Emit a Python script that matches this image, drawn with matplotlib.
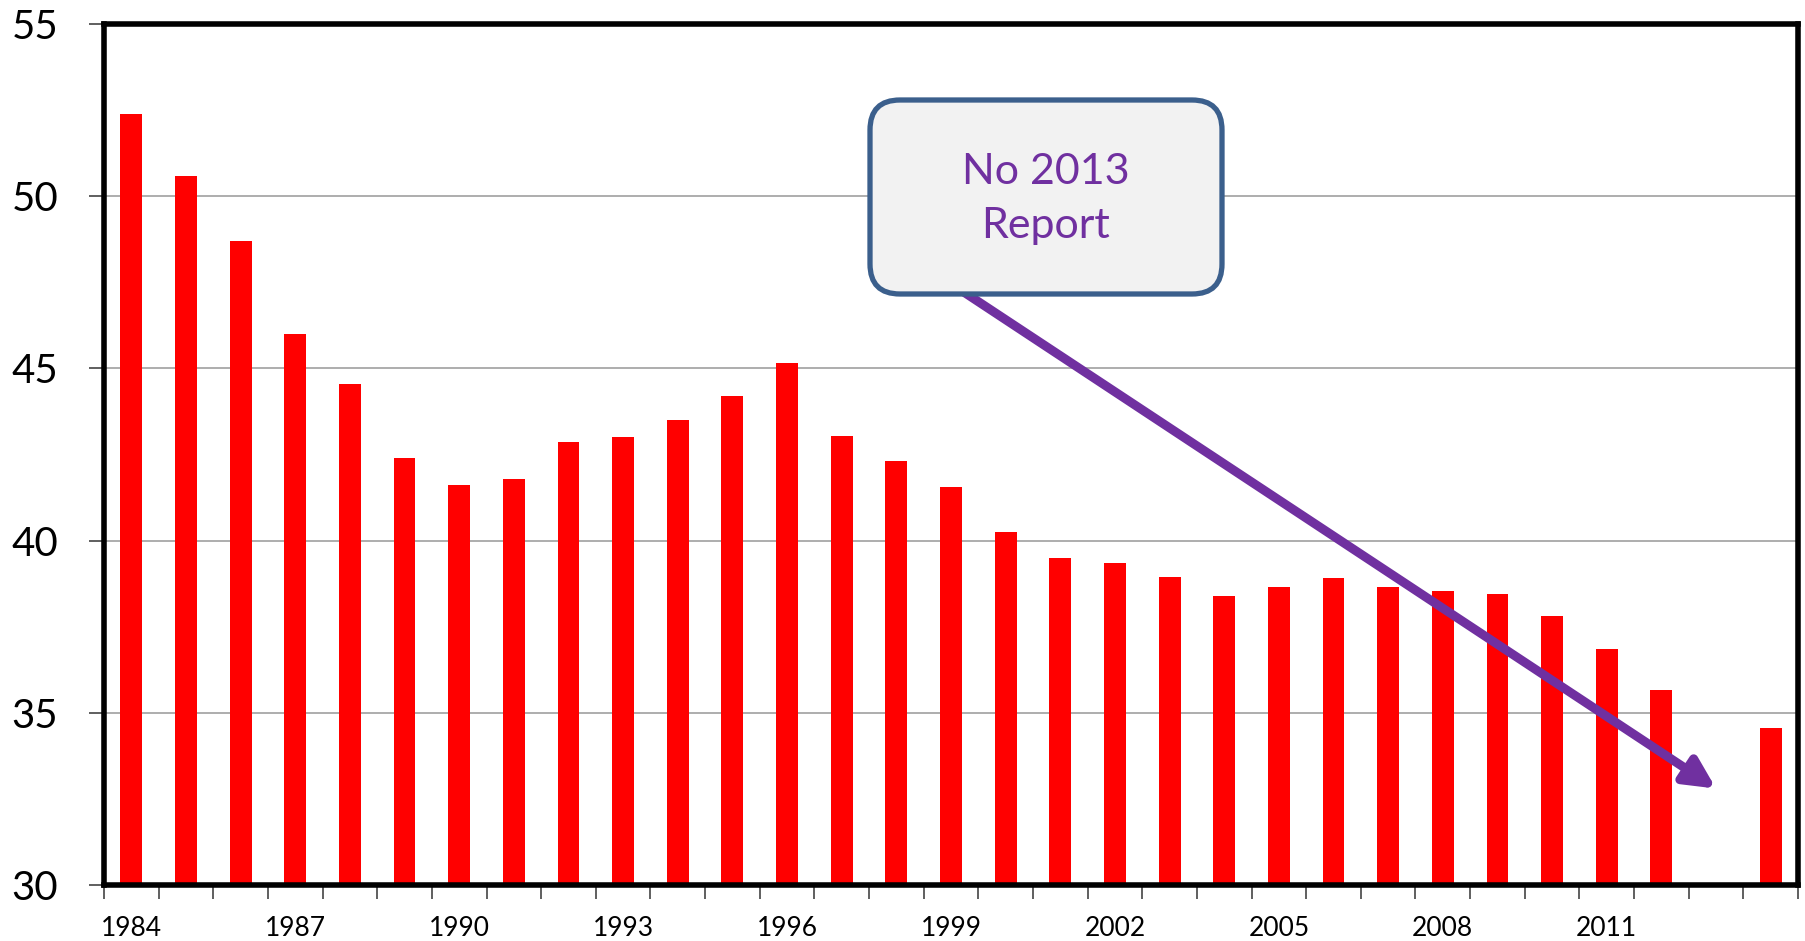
import numpy as np
import matplotlib.pyplot as plt
from matplotlib.patches import FancyBboxPatch

plt.rcParams['font.family'] = ['Lato', 'DejaVu Sans']

# values (2013 has no report)
years = list(range(1984, 2015))
values = [52.4, 50.6, 48.7, 46.0, 44.55, 42.4, 41.6, 41.8, 42.85, 43.0,
          43.5, 44.2, 45.15, 43.05, 42.3, 41.55, 40.25, 39.5, 39.35, 38.95,
          38.4, 38.65, 38.9, 38.65, 38.55, 38.45, 37.8, 36.85, 35.65, np.nan,
          34.55]
label_years = [1984, 1987, 1990, 1993, 1996, 1999, 2002, 2005, 2008, 2011]
y_ticks = [30, 35, 40, 45, 50, 55]

W, H = 1806, 941
fig = plt.figure(figsize=(W / 100, H / 100), dpi=100)
ax = fig.add_axes([104 / W, 1 - 885 / H, (1798 - 104) / W, (885 - 24) / H])

x = np.arange(len(years))
vals = np.array(values, dtype=float)
ok = ~np.isnan(vals)
ax.bar(x[ok], vals[ok] - 30, bottom=30, width=0.4, color='#FF0000', zorder=3)

ax.set_xlim(-0.5, len(years) - 0.5)
ax.set_ylim(30, 55)

# y axis
ax.set_yticks(y_ticks)
ax.set_yticklabels([str(v) for v in y_ticks], fontsize=29)
ax.tick_params(axis='y', length=11, width=1.2, color='#444444', pad=22)
for v in y_ticks[1:-1]:
    ax.axhline(v, color='#A0A0A0', lw=1.2, zorder=1)

# x axis: labels every 3 years, ticks between categories
ax.set_xticks([years.index(y) for y in label_years])
ax.set_xticklabels([str(y) for y in label_years], fontsize=19)
ax.tick_params(axis='x', which='major', length=0, pad=22)
ax.set_xticks(np.arange(-0.5, len(years)), minor=True)
ax.tick_params(axis='x', which='minor', length=10, width=1.2, color='#444444')

for s in ax.spines.values():
    s.set_linewidth(4)
    s.set_color('black')
    s.set_zorder(5)

# arrow from the callout towards the missing 2013 bar
ax.annotate('', xy=(29.0, 32.8), xytext=(15.25, 47.2),
            arrowprops=dict(arrowstyle='-|>,head_length=1.8,head_width=0.9',
                            color='#7030A0', lw=6.5, shrinkA=0, shrinkB=0),
            zorder=6)

# callout box, placed in figure pixels
bx0, by0, bx1, by1 = 870, 100, 1222, 294
r = 30
box = FancyBboxPatch((bx0 / W, 1 - by1 / H), (bx1 - bx0) / W, (by1 - by0) / H,
                     boxstyle=f'round,pad=0,rounding_size={r / W}',
                     mutation_aspect=W / H, transform=fig.transFigure,
                     facecolor='#F2F2F2', edgecolor='#3B5F8C', linewidth=3.8,
                     zorder=7)
fig.patches.append(box)
fig.text((bx0 + bx1) / 2 / W, 1 - 199 / H, 'No 2013\nReport',
         ha='center', va='center', fontsize=31, color='#7030A0',
         linespacing=1.5, zorder=8)

fig.savefig('out.png', dpi=100)
